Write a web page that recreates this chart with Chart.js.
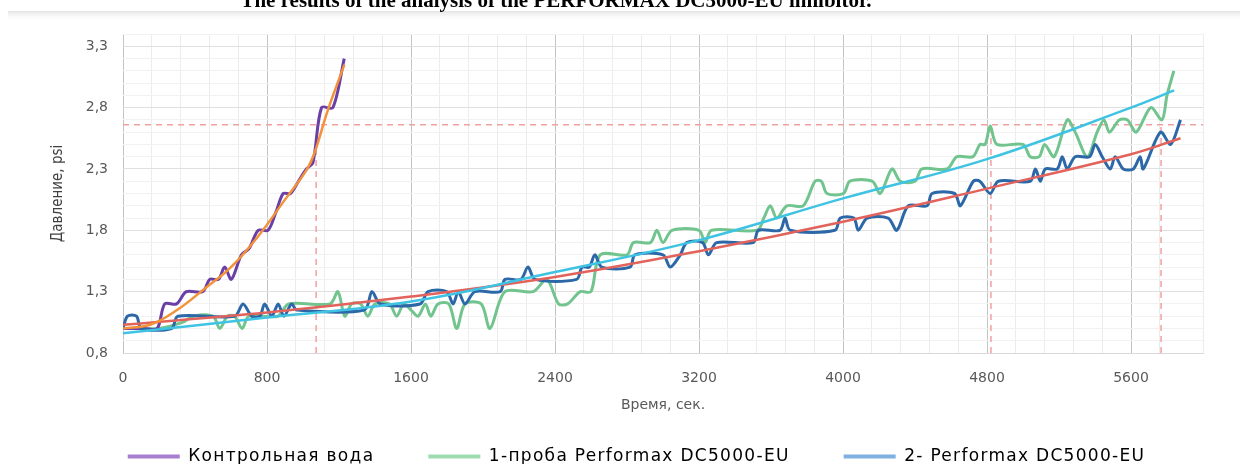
<!DOCTYPE html>
<html>
<head>
<meta charset="utf-8">
<script src="https://cdn.jsdelivr.net/npm/chart.js@4.4.1/dist/chart.umd.min.js"></script>
<style>
  html, body { margin: 0; padding: 0; background: #fff; }
  #wrap { width: 1248px; height: 464px; }
</style>
</head>
<body>
<div id="wrap"><canvas id="chart" width="1248" height="464"></canvas></div>
<script>
// control water
let ctrlT = [0, 60, 120, 190, 232, 297, 352, 443, 482, 530, 565, 602, 658, 700, 751, 806, 850, 890, 930, 975, 1019, 1055, 1103, 1166, 1229];
let ctrlP = [1.0, 1.0, 1.0, 1.0, 1.2, 1.2, 1.3, 1.3, 1.4, 1.4, 1.5, 1.4, 1.6, 1.65, 1.8, 1.8, 1.95, 2.1, 2.1, 2.2, 2.3, 2.35, 2.8, 2.8, 3.2];

// 1-проба
let s1T = [0, 100, 200, 330, 390, 500, 538, 580, 620, 662, 700, 860, 920, 1150, 1194, 1232, 1270, 1320, 1360, 1400, 1480, 1520, 1560, 1600, 1640, 1680, 1710, 1750, 1810, 1854, 1900, 1990, 2039, 2122, 2279, 2355, 2420, 2470, 2540, 2600, 2651, 2800, 2836, 2930, 2966, 3000, 3050, 3200, 3234, 3270, 3523, 3560, 3596, 3632, 3688, 3779, 3845, 3880, 3911, 4002, 4039, 4162, 4207, 4272, 4318, 4400, 4439, 4578, 4633, 4722, 4761, 4790, 4818, 4855, 5000, 5040, 5090, 5120, 5173, 5246, 5290, 5357, 5412, 5450, 5480, 5535, 5580, 5629, 5710, 5772, 5800, 5838];
let s1P = [1.0, 1.0, 1.0, 1.05, 1.1, 1.1, 1.0, 1.1, 1.1, 1.0, 1.1, 1.1, 1.2, 1.2, 1.3, 1.1, 1.2, 1.2, 1.1, 1.2, 1.2, 1.1, 1.2, 1.15, 1.1, 1.2, 1.1, 1.2, 1.2, 1.0, 1.2, 1.2, 1.0, 1.3, 1.3, 1.4, 1.2, 1.2, 1.3, 1.3, 1.6, 1.6, 1.7, 1.7, 1.8, 1.7, 1.8, 1.8, 1.7, 1.8, 1.8, 1.9, 2.0, 1.9, 2.0, 2.0, 2.2, 2.2, 2.1, 2.1, 2.2, 2.2, 2.1, 2.3, 2.2, 2.2, 2.3, 2.3, 2.4, 2.4, 2.5, 2.5, 2.65, 2.5, 2.5, 2.4, 2.4, 2.5, 2.4, 2.7, 2.6, 2.4, 2.6, 2.7, 2.6, 2.7, 2.7, 2.6, 2.8, 2.7, 2.9, 3.1];

// 2- Performax
let s2T = [0, 25, 75, 102, 270, 305, 620, 667, 715, 760, 787, 827, 862, 894, 937, 965, 1340, 1383, 1430, 1650, 1695, 1798, 1834, 1863, 1900, 1955, 2095, 2122, 2210, 2250, 2290, 2520, 2550, 2590, 2622, 2660, 2817, 2844, 3000, 3040, 3096, 3132, 3220, 3252, 3298, 3501, 3530, 3650, 3678, 3707, 3955, 3985, 4060, 4085, 4134, 4251, 4299, 4363, 4467, 4495, 4620, 4652, 4724, 4760, 4818, 4863, 5040, 5069, 5096, 5124, 5190, 5218, 5246, 5290, 5370, 5401, 5440, 5485, 5512, 5557, 5613, 5651, 5668, 5764, 5820, 5875];
let s2P = [1.0, 1.1, 1.1, 1.0, 1.0, 1.1, 1.1, 1.2, 1.1, 1.1, 1.2, 1.1, 1.2, 1.1, 1.2, 1.15, 1.15, 1.3, 1.2, 1.2, 1.3, 1.3, 1.2, 1.3, 1.2, 1.3, 1.3, 1.4, 1.4, 1.5, 1.4, 1.4, 1.5, 1.5, 1.6, 1.5, 1.5, 1.6, 1.6, 1.5, 1.6, 1.7, 1.7, 1.6, 1.7, 1.7, 1.8, 1.8, 1.9, 1.8, 1.8, 1.9, 1.9, 1.8, 1.9, 1.9, 1.8, 2.0, 2.0, 2.1, 2.1, 2.0, 2.2, 2.2, 2.1, 2.2, 2.2, 2.3, 2.2, 2.3, 2.3, 2.4, 2.3, 2.4, 2.4, 2.5, 2.4, 2.3, 2.4, 2.3, 2.3, 2.4, 2.3, 2.6, 2.5, 2.7];

// trend lines
let trendCtrlT = [0, 150, 300, 450, 600, 750, 900, 1019, 1066, 1138, 1230];
let trendCtrlP = [1.0, 1.03, 1.15, 1.32, 1.5, 1.75, 2.05, 2.29, 2.44, 2.78, 3.15];
let trend1T = [0, 800, 1600, 2400, 3200, 4000, 4800, 5600, 5840];
let trend1P = [0.96, 1.09, 1.22, 1.46, 1.72, 2.06, 2.38, 2.8, 2.94];
let trend2T = [0, 800, 1600, 2400, 3200, 4000, 4800, 5600, 5875];
let trend2P = [1.03, 1.13, 1.26, 1.42, 1.63, 1.87, 2.14, 2.42, 2.55];

// dashed marker lines: [t1, p1, t2, p2]
let markLines = [
  [0, 2.66, 6000, 2.66],
  [1073, 0.8, 1073, 2.45],
  [4822, 0.8, 4822, 2.66],
  [5767, 0.8, 5767, 2.66]
];

let legendNames = ["Контрольная вода", "1-проба Performax DC5000-EU", "2- Performax DC5000-EU"];
let legendColors = ["#a77fd0", "#9fdbb0", "#7fb0e0"];

function pts(t, p) {
  return t.map((x, i) => ({ x: x, y: p[i] }));
}

let datasets = [
  { data: pts(trendCtrlT, trendCtrlP), borderColor: "#f2923a", borderWidth: 2.5, tension: 0.4, order: 1 },
  { data: pts(trend1T, trend1P), borderColor: "#3fc3e3", borderWidth: 2.5, tension: 0.4, order: 1 },
  { data: pts(trend2T, trend2P), borderColor: "#e2625c", borderWidth: 2.5, tension: 0.4, order: 1 },
  { data: pts(ctrlT, ctrlP), borderColor: "#6a3fa6", borderWidth: 3, tension: 0.3, order: 3 },
  { data: pts(s1T, s1P), borderColor: "#72c48e", borderWidth: 3, tension: 0.3, order: 3 },
  { data: pts(s2T, s2P), borderColor: "#2c67a8", borderWidth: 3, tension: 0.3, order: 2 }
];

markLines.forEach(m => {
  datasets.push({
    data: [{ x: m[0], y: m[1] }, { x: m[2], y: m[3] }],
    borderColor: "#f2a0a0", borderWidth: 1.5, borderDash: [6, 5], order: 5
  });
});

datasets.forEach(d => {
  d.showLine = true;
  d.pointRadius = 0;
  d.fill = false;
});

const titlePlugin = {
  id: 'cutTitle',
  beforeDraw(chart) {
    const ctx = chart.ctx;
    ctx.save();
    ctx.fillStyle = '#fff';
    ctx.fillRect(0, 0, chart.width, chart.height);
    let g = ctx.createLinearGradient(0, 11, 0, 22);
    g.addColorStop(0, 'rgba(225,225,225,0.9)');
    g.addColorStop(1, 'rgba(255,255,255,0)');
    ctx.fillStyle = g;
    ctx.fillRect(8, 11, 1232, 11);
    ctx.font = 'bold 21px "Liberation Serif", "Times New Roman", serif';
    ctx.fillStyle = '#000';
    ctx.textAlign = 'center';
    ctx.textBaseline = 'alphabetic';
    ctx.fillText('The results of the analysis of the PERFORMAX DC5000-EU inhibitor.', 556, 7);
    ctx.restore();
  }
};

// legend text in the picture is spaced out, so measure and draw it with some letter spacing
const legendSpacing = {
  id: 'legendSpacing',
  beforeLayout(chart) {
    const lg = chart.legend;
    if (!lg || lg._spaced) return;
    const fit = lg.fit.bind(lg);
    const draw = lg.draw.bind(lg);
    lg.fit = function () {
      chart.ctx.letterSpacing = '1.3px';
      fit();
      chart.ctx.letterSpacing = '0px';
    };
    lg.draw = function (a) {
      chart.ctx.letterSpacing = '1.3px';
      draw(a);
      chart.ctx.letterSpacing = '0px';
    };
    lg._spaced = true;
  }
};

new Chart(document.getElementById("chart"), {
  type: 'scatter',
  data: { datasets: datasets },
  plugins: [titlePlugin, legendSpacing],
  options: {
    responsive: false,
    animation: false,
    layout: { padding: { left: 70, right: 45, top: 34, bottom: -11 } },
    plugins: {
      tooltip: { enabled: false },
      legend: {
        position: 'bottom',
        labels: {
          boxWidth: 52,
          boxHeight: 4,
          padding: 54,
          color: '#595959',
          font: { family: '"DejaVu Sans", sans-serif', size: 17 },
          generateLabels: () => legendNames.map((t, i) => ({
            text: t, fillStyle: legendColors[i], strokeStyle: legendColors[i],
            lineWidth: 0, hidden: false, datasetIndex: i
          }))
        }
      }
    },
    scales: {
      x: {
        type: 'linear',
        min: 0,
        max: 6000,
        afterFit: s => { s.height = 41; },
        ticks: {
          stepSize: 160,
          autoSkip: false,
          maxRotation: 0,
          padding: 17,
          color: '#595959',
          font: { family: '"DejaVu Sans", sans-serif', size: 14 },
          callback: v => (v % 800 === 0 ? String(v) : '')
        },
        grid: {
          drawTicks: false,
          color: c => (c.tick && c.tick.value % 800 === 0 ? '#c4c4c4' : '#ececec'),
          lineWidth: 1
        },
        border: { color: '#d9d9d9' },
        title: {
          display: true,
          text: 'Время, сек.',
          color: '#595959',
          font: { family: '"DejaVu Sans", sans-serif', size: 14 },
          padding: { top: 0, bottom: -20 }
        }
      },
      y: {
        min: 0.8,
        max: 3.4,
        afterFit: s => { s.width = 53; },
        ticks: {
          stepSize: 0.1,
          autoSkip: false,
          padding: 15,
          color: '#595959',
          font: { family: '"DejaVu Sans", sans-serif', size: 14 },
          callback: v => {
            let r = Math.round(v * 10);
            return (r - 8) % 5 === 0 ? (r / 10).toFixed(1).replace('.', ',') : '';
          }
        },
        grid: {
          drawTicks: false,
          color: c => {
            let r = Math.round(c.tick.value * 10);
            return (r - 8) % 5 === 0 ? '#e0e0e0' : '#f2f2f2';
          }
        },
        border: { display: false },
        title: {
          display: true,
          text: 'Давление, psi',
          color: '#404040',
          font: { family: '"Liberation Sans Narrow", "DejaVu Sans Condensed", "Liberation Sans", sans-serif', size: 15 },
          padding: { top: -21, bottom: 0 }
        }
      }
    }
  }
});
</script>
</body>
</html>
